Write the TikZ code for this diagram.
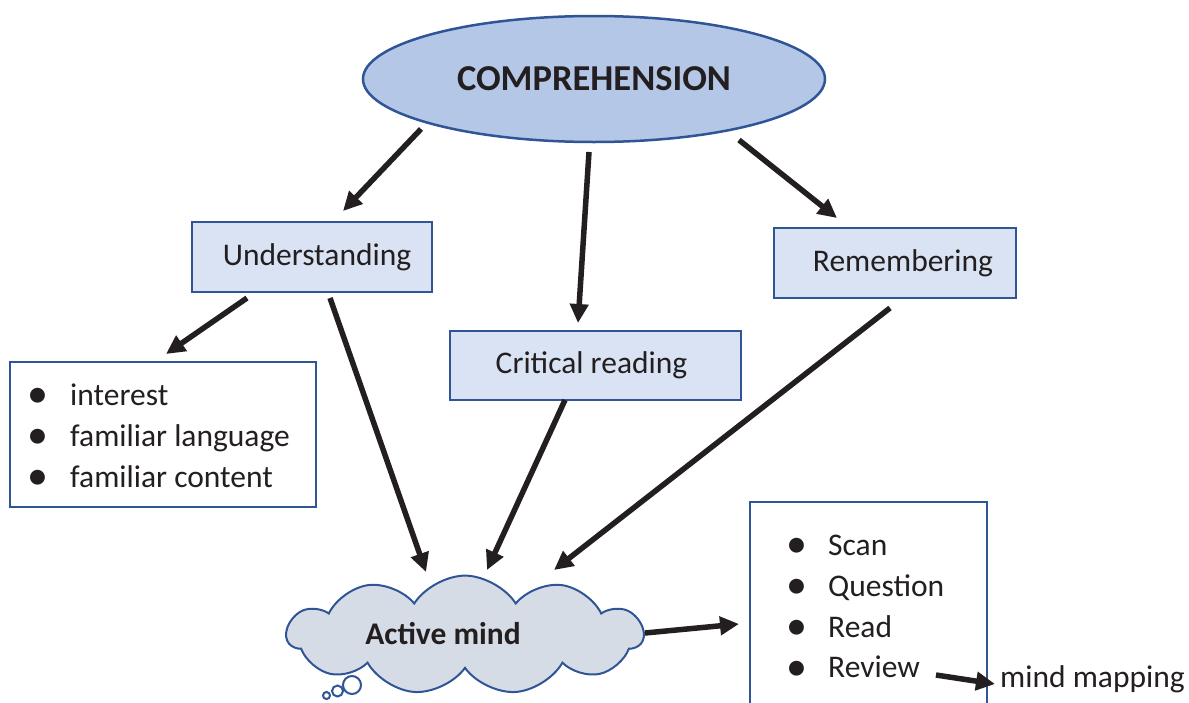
\documentclass[tikz,border=0pt]{standalone}
\usepackage{fontspec}
\setmainfont{Carlito}
\usetikzlibrary{arrows.meta,shapes.geometric,shapes.symbols}
\definecolor{bord}{HTML}{2F5597}
\definecolor{ellfill}{HTML}{B4C7E7}
\definecolor{boxfill}{HTML}{DAE3F3}
\definecolor{cloudfill}{HTML}{D6DCE5}
\definecolor{ink}{HTML}{231F20}
\begin{document}
\begin{tikzpicture}[x=1pt,y=-1pt,
  font=\fontsize{31.5}{38}\selectfont, text=ink,
  rbox/.style={draw=bord, line width=2pt, fill=boxfill, inner sep=0pt, minimum height=70pt},
  lbox/.style={draw=bord, line width=2pt, fill=white, inner sep=0pt},
  arr/.style={line width=5.5pt, draw=ink, -{Triangle[length=19pt,width=18pt]}},
  item/.style={anchor=base west, inner sep=0pt},
  bul/.style={anchor=base, inner sep=0pt, font=\fontsize{42}{42}\selectfont}]
\useasboundingbox (0,0) rectangle (1189,702);

% main ellipse
\node[ellipse, draw=bord, line width=2.5pt, fill=ellfill, minimum width=462pt, minimum height=126pt, inner sep=0pt,
      font=\fontsize{36.5}{40}\selectfont\bfseries] (comp) at (594,79) {COMPREHENSION};

% boxes
\node[rbox, minimum width=240pt] (und) at (312,257) {\hspace*{10pt}Understanding};
\node[rbox, minimum width=242pt] (rem) at (895,263) {\hspace*{16pt}\raisebox{-4pt}{Remembering}};
\node[rbox, minimum width=291pt, minimum height=69pt] (crit) at (595.5,365.5) {\raisebox{-3pt}{Critical reading}\hspace*{8pt}};

% left list box
\node[lbox, minimum width=306pt, minimum height=145pt] (lista) at (163,434.5) {};
\node[bul] (b1) at (38,407) {\textbullet};
\node[bul] (b2) at (38,448) {\textbullet};
\node[bul] (b3) at (38,489) {\textbullet};
\node[item] (t1) at (70,405) {interest};
\node[item] (t2) at (70,446) {familiar language};
\node[item] (t3) at (70,487) {familiar content};

% right list box (continues past the bottom edge)
\node[lbox, minimum width=237pt, minimum height=215pt] (listb) at (868.5,609.5) {};
\node[bul] (b4) at (797,557) {\textbullet};
\node[bul] (b5) at (797,598) {\textbullet};
\node[bul] (b6) at (797,639) {\textbullet};
\node[bul] (b7) at (797,680) {\textbullet};
\node[item] (t4) at (828,555) {Scan};
\node[item] (t5) at (828,596) {Question};
\node[item] (t6) at (828,637) {Read};
\node[item] (t7) at (828,677) {Review};
\node[item] (mm) at (1000,687) {mind mapping};

% cloud
\node[cloud, draw=bord, line width=2pt, fill=cloudfill, cloud puffs=11, cloud puff arc=115, aspect=3.6,
      minimum width=356pt, minimum height=94pt, inner sep=0pt, font=\fontsize{31.5}{38}\selectfont\bfseries]
      (mind) at (465,635) {\raisebox{4pt}{Active mind}\hspace*{44pt}};
\draw[bord, line width=2pt, fill=white] (352,685) circle (9pt);
\draw[bord, line width=2pt, fill=white] (337.5,691) circle (5.5pt);
\draw[bord, line width=2pt, fill=white] (326.5,695.5) circle (3.5pt);

% connector end points
\coordinate (s1) at (421,129);  \coordinate (e1) at (343,211);
\coordinate (s2) at (589,152);  \coordinate (e2) at (578,323);
\coordinate (s3) at (739,140);  \coordinate (e3) at (837,218);
\coordinate (s4) at (247,298);  \coordinate (e4) at (166,354);
\coordinate (s5) at (330,298);  \coordinate (e5) at (426,572);
\coordinate (s6) at (565,400);  \coordinate (e6) at (487,570);
\coordinate (s7) at (890,308);  \coordinate (e7) at (554,570);
\coordinate (s8) at (645,633);  \coordinate (e8) at (739,624);
\coordinate (s9) at (936,675);  \coordinate (e9) at (995,684);

\draw[arr] (s1) -- (e1);
\draw[arr] (s2) -- (e2);
\draw[arr] (s3) -- (e3);
\draw[arr] (s4) -- (e4);
\draw[arr] (s5) -- (e5);
\draw[arr] (s6) -- (e6);
\draw[arr] (s7) -- (e7);
\draw[arr] (s8) -- (e8);
\draw[arr] (s9) -- (e9);
\end{tikzpicture}
\end{document}
